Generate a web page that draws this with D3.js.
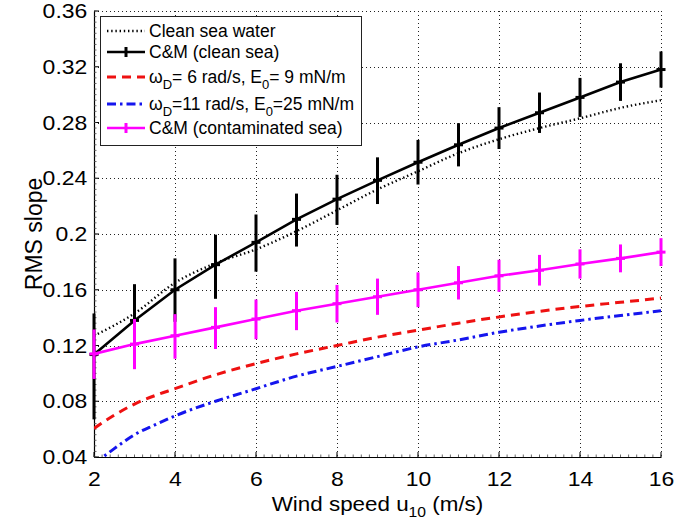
<!DOCTYPE html>
<html><head><meta charset="utf-8">
<script src="https://cdn.jsdelivr.net/npm/d3@7"></script>
<style>
body{margin:0;background:#fff;}
text{font-family:"Liberation Sans",Arial,Helvetica,sans-serif;fill:#000;}
</style></head>
<body>
<svg id="chart" width="690" height="525"></svg>
<script>
// ---- data ----
const windSpeed = [2,3,4,5,6,7,8,9,10,11,12,13,14,15,16];
const cmClean      = [0.1135,0.138,0.160,0.178,0.194,0.2105,0.225,0.2385,0.2515,0.264,0.276,0.287,0.298,0.309,0.318];
const cmCleanUpper = [0.143,0.164,0.1825,0.1995,0.214,0.229,0.2425,0.255,0.2675,0.2795,0.291,0.3015,0.312,0.3225,0.331];
const cmCleanLower = [0.067,0.112,0.137,0.1535,0.173,0.191,0.2065,0.2215,0.2355,0.2485,0.261,0.2725,0.284,0.2955,0.305];
const cmCont       = [0.1140,0.121,0.127,0.133,0.139,0.145,0.150,0.155,0.160,0.165,0.170,0.174,0.1785,0.1825,0.187];
const cmContUpper  = [0.1315,0.139,0.1425,0.1475,0.153,0.1585,0.1635,0.168,0.1725,0.177,0.1815,0.185,0.189,0.1925,0.197];
const cmContLower  = [0.0960,0.103,0.1105,0.1175,0.1245,0.131,0.1365,0.142,0.1475,0.153,0.1585,0.163,0.168,0.1725,0.177];
const cleanSea     = [0.127,0.143,0.165,0.179,0.189,0.202,0.217,0.232,0.245,0.258,0.268,0.276,0.283,0.2905,0.296];
const modelX       = [2,2.5,3,3.5,4,5,6,7,8,9,10,11,12,13,14,15,16];
const model6       = [0.0605,0.070,0.078,0.084,0.089,0.099,0.107,0.114,0.120,0.126,0.131,0.136,0.1405,0.1445,0.148,0.151,0.154];
const model11      = [0.035,0.046,0.056,0.063,0.0695,0.080,0.089,0.098,0.105,0.112,0.119,0.124,0.1295,0.134,0.138,0.1415,0.145];
const xTicks = [2,4,6,8,10,12,14,16];
const yTicks = [0.04,0.08,0.12,0.16,0.2,0.24,0.28,0.32,0.36];
const yTickLabels = ["0.04","0.08","0.12","0.16","0.2","0.24","0.28","0.32","0.36"];

// ---- layout ----
const svg = d3.select("#chart");
const L = 94, R = 661, T = 11, B = 457;
const x = d3.scaleLinear().domain([2,16]).range([L,R]);
const y = d3.scaleLinear().domain([0.04,0.36]).range([B,T]);

svg.append("defs").append("clipPath").attr("id","plotclip")
  .append("rect").attr("x",L).attr("y",T).attr("width",R-L).attr("height",B-T);

// grid
const grid = svg.append("g").attr("stroke","#222").attr("stroke-width",1).attr("stroke-dasharray","1,3");
xTicks.forEach(v=>grid.append("line").attr("x1",x(v)+0.5).attr("x2",x(v)+0.5).attr("y1",T).attr("y2",B));
yTicks.forEach(v=>grid.append("line").attr("x1",L).attr("x2",R).attr("y1",Math.round(y(v))+0.5).attr("y2",Math.round(y(v))+0.5));

// axes (left & bottom)
const xAxis = d3.axisBottom(x).tickValues(xTicks).tickSize(0).tickPadding(14).tickFormat(d=>String(d));
const yAxis = d3.axisLeft(y).tickValues(yTicks).tickSize(0).tickPadding(6).tickFormat((d,i)=>yTickLabels[i]);
const gx = svg.append("g").attr("transform",`translate(0,${B})`).call(xAxis);
const gy = svg.append("g").attr("transform",`translate(${L},0)`).call(yAxis);
[gx,gy].forEach(g=>{
  g.select(".domain").attr("stroke","#000").attr("stroke-width",1.2);
  g.selectAll("text").attr("font-size",20.5).attr("font-family","Liberation Sans, Arial, sans-serif")
    .attr("fill","#000").attr("transform","scale(1.12,1)");
});
// major ticks inward
xTicks.forEach(v=>svg.append("line").attr("x1",x(v)).attr("x2",x(v)).attr("y1",B).attr("y2",B-5).attr("stroke","#000"));
yTicks.forEach(v=>svg.append("line").attr("x1",L).attr("x2",L+5).attr("y1",y(v)).attr("y2",y(v)).attr("stroke","#000"));
// minor ticks
const minor = svg.append("g").attr("stroke","#444").attr("stroke-width",0.8);
d3.range(2,16.001,0.2).forEach(v=>minor.append("line").attr("x1",x(v)).attr("x2",x(v)).attr("y1",B).attr("y2",B-2.5));
d3.range(0.04,0.3601,0.004).forEach(v=>minor.append("line").attr("x1",L).attr("x2",L+2.5).attr("y1",y(v)).attr("y2",y(v)));

// axis titles
const xt = svg.append("text").attr("transform",`translate(${(L+R)/2},511) scale(1.12,1)`)
  .attr("text-anchor","middle").attr("font-size",20);
xt.append("tspan").text("Wind speed u");
xt.append("tspan").attr("font-size",14).attr("dy",6).text("10");
xt.append("tspan").attr("dy",-6).text(" (m/s)");
svg.append("text").attr("transform",`translate(42,${(T+B)/2}) rotate(-90)`).attr("text-anchor","middle")
  .attr("font-size",23).text("RMS slope");

// lines
const plot = svg.append("g").attr("clip-path","url(#plotclip)");
const smooth = d3.line().x(d=>x(d[0])).y(d=>y(d[1])).curve(d3.curveMonotoneX);
const poly = d3.line().x(d=>x(d[0])).y(d=>y(d[1]));

plot.append("path").attr("d",smooth(windSpeed.map((v,i)=>[v,cleanSea[i]])))
  .attr("fill","none").attr("stroke","#000").attr("stroke-width",2.4).attr("stroke-dasharray","1.4,2.8");
plot.append("path").attr("d",smooth(modelX.map((v,i)=>[v,model6[i]])))
  .attr("fill","none").attr("stroke","#ee1111").attr("stroke-width",3).attr("stroke-dasharray","9,6");
plot.append("path").attr("d",smooth(modelX.map((v,i)=>[v,model11[i]])))
  .attr("fill","none").attr("stroke","#1515ee").attr("stroke-width",3).attr("stroke-dasharray","9,4,2.5,4");

function errSeries(vals, up, lo, color){
  const g = svg.append("g");
  g.append("path").attr("d",poly(windSpeed.map((v,i)=>[v,vals[i]])))
    .attr("fill","none").attr("stroke",color).attr("stroke-width",2.6);
  windSpeed.forEach((v,i)=>{
    g.append("line").attr("x1",x(v)).attr("x2",x(v)).attr("y1",y(up[i])).attr("y2",y(lo[i]))
      .attr("stroke",color).attr("stroke-width",3);
    g.append("line").attr("x1",x(v)-4.5).attr("x2",x(v)+4.5).attr("y1",y(vals[i])).attr("y2",y(vals[i]))
      .attr("stroke",color).attr("stroke-width",3);
  });
}
errSeries(cmClean, cmCleanUpper, cmCleanLower, "#000");
errSeries(cmCont, cmContUpper, cmContLower, "#ff00ff");

// legend
const lg = svg.append("g");
lg.append("rect").attr("x",100.5).attr("y",16.5).attr("width",261).attr("height",129)
  .attr("fill","#fff").attr("stroke","#222").attr("stroke-width",1);
const entries = [
  {y:31, stroke:"#000", w:2.4, dash:"1.4,2.8", marker:false, parts:[["Clean sea water"]]},
  {y:52, stroke:"#000", w:2.6, dash:null, marker:true, parts:[["C&M (clean sea)"]]},
  {y:77, stroke:"#ee1111", w:3, dash:"9,6", marker:false, parts:[["ω"],["D","sub"],["= 6 rad/s, E"],["0","sub"],["= 9 mN/m"]]},
  {y:104, stroke:"#1515ee", w:3, dash:"9,4,2.5,4", marker:false, parts:[["ω"],["D","sub"],["=11 rad/s, E"],["0","sub"],["=25 mN/m"]]},
  {y:128, stroke:"#ff00ff", w:2.6, dash:null, marker:true, parts:[["C&M (contaminated sea)"]]}
];
entries.forEach(e=>{
  const ln = lg.append("line").attr("x1",107).attr("x2",145).attr("y1",e.y).attr("y2",e.y)
    .attr("stroke",e.stroke).attr("stroke-width",e.w);
  if(e.dash) ln.attr("stroke-dasharray",e.dash);
  if(e.marker){
    lg.append("line").attr("x1",126).attr("x2",126).attr("y1",e.y-5).attr("y2",e.y+5).attr("stroke",e.stroke).attr("stroke-width",3);
  }
  const t = lg.append("text").attr("x",149).attr("y",e.y+6).attr("font-size",17.5);
  let inSub=false;
  e.parts.forEach(p=>{
    const ts = t.append("tspan").text(p[0]);
    if(p[1]==="sub"){ ts.attr("font-size",13).attr("dy",6); inSub=true; }
    else if(inSub){ ts.attr("dy",-6); inSub=false; }
  });
});
</script>
</body></html>
